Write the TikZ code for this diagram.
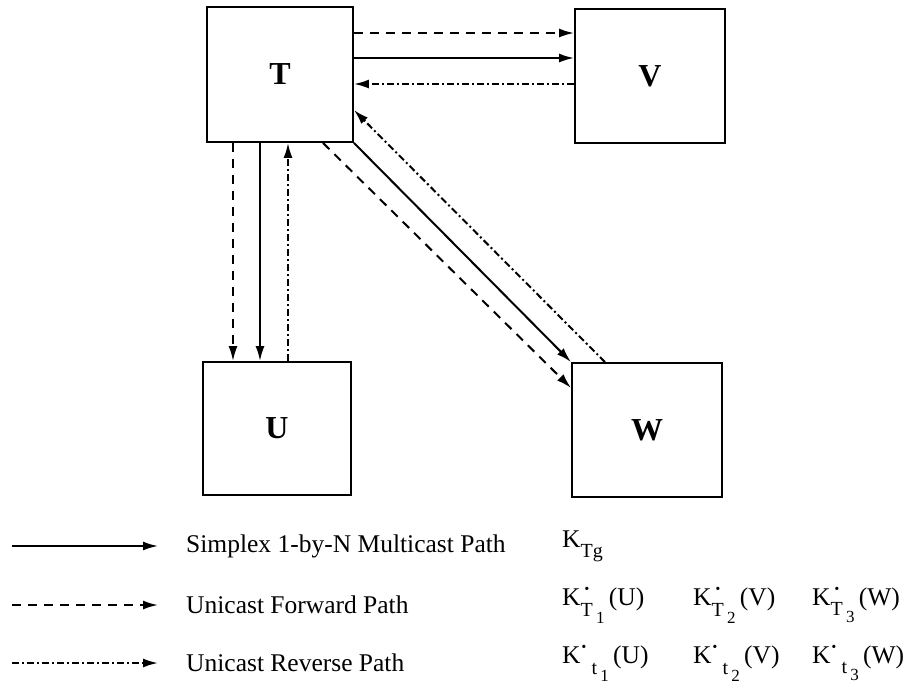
\documentclass[tikz,border=0pt]{standalone}
\usepackage{fontspec}
\setmainfont{Liberation Serif}
\usetikzlibrary{arrows.meta}
\newcommand{\lsub}[1]{\raisebox{-0.4em}{\fontsize{20}{21}\selectfont #1}}
\newcommand{\lsubb}[1]{\raisebox{-0.35em}{\fontsize{17}{18}\selectfont #1}}
\newcommand{\ldot}{\raisebox{0.42em}{\fontsize{20}{21}\selectfont\bfseries ·}}
\begin{document}
\begin{tikzpicture}[x=1pt,y=-1pt,
  box/.style={draw,line width=1.8pt,inner sep=0pt,font=\fontsize{32}{34}\selectfont\bfseries},
  conn/.style={line width=2pt,-{Latex[length=15pt,width=9pt]}},
  fwd/.style={conn,dash pattern=on 9pt off 7pt},
  rev/.style={conn,dash pattern=on 7pt off 3pt on 2pt off 3pt},
  lgd/.style={anchor=west,inner sep=0pt,font=\fontsize{25.5}{28}\selectfont}]
\useasboundingbox (0,0) rectangle (919,691);
% boxes
\node[box,minimum width=146pt,minimum height=135pt] (T) at (280,74.5) {T};
\node[box,minimum width=150pt,minimum height=134pt] (V) at (650,76) {V};
\node[box,minimum width=148pt,minimum height=133pt] (U) at (277,428.5) {U};
\node[box,minimum width=150pt,minimum height=134pt] (W) at (647,430) {W};
% level helpers
\coordinate (h1) at (0,33);
\coordinate (h2) at (0,58);
\coordinate (h3) at (0,84);
\coordinate (h4) at (0,110);
\coordinate (h5) at (0,388);
\coordinate (v1) at (233,0);
\coordinate (v2) at (260,0);
\coordinate (v3) at (288,0);
\coordinate (v4) at (323,0);
\coordinate (v5) at (605,0);
% T - V
\draw[fwd] (T.east |- h1) -- (V.west |- h1);
\draw[conn] (T.east |- h2) -- (V.west |- h2);
\draw[rev] (V.west |- h3) -- (T.east |- h3);
% T - U
\draw[fwd] (T.south -| v1) -- (U.north -| v1);
\draw[conn] (T.south -| v2) -- (U.north -| v2);
\draw[rev] (U.north -| v3) -- (T.south -| v3);
% T - W
\draw[conn] (T.south east) -- (W.north west);
\draw[fwd] (T.south -| v4) -- (W.west |- h5);
\draw[rev] (W.north -| v5) -- (T.east |- h4);
% legend
\coordinate (l1a) at (12,546); \coordinate (l1b) at (158,546);
\coordinate (l2a) at (12,605); \coordinate (l2b) at (158,605);
\coordinate (l3a) at (12,663); \coordinate (l3b) at (158,663);
\draw[conn] (l1a) -- (l1b);
\draw[fwd] (l2a) -- (l2b);
\draw[rev] (l3a) -- (l3b);
\node[lgd] (t1) at (186,546) {Simplex 1-by-N Multicast Path};
\node[lgd] (t2) at (186,605) {Unicast Forward Path};
\node[lgd] (t3) at (186,663) {Unicast Reverse Path};
\node[lgd] (k0) at (562,546) {K\lsub{Tg}};
\node[lgd] (k1) at (562,605) {K\rlap{\hspace{3pt}\ldot}\lsub{T\,\lsubb{1}}\,(U)};
\node[lgd] (k2) at (693,605) {K\rlap{\hspace{3pt}\ldot}\lsub{T\,\lsubb{2}}\,(V)};
\node[lgd] (k3) at (812,605) {K\rlap{\hspace{3pt}\ldot}\lsub{T\,\lsubb{3}}\,(W)};
\node[lgd] (k4) at (562,663) {K\ldot\,\lsub{t\,\lsubb{1}}\,(U)};
\node[lgd] (k5) at (693,663) {K\ldot\,\lsub{t\,\lsubb{2}}\,(V)};
\node[lgd] (k6) at (812,663) {K\ldot\,\lsub{t\,\lsubb{3}}\,(W)};
\end{tikzpicture}
\end{document}
